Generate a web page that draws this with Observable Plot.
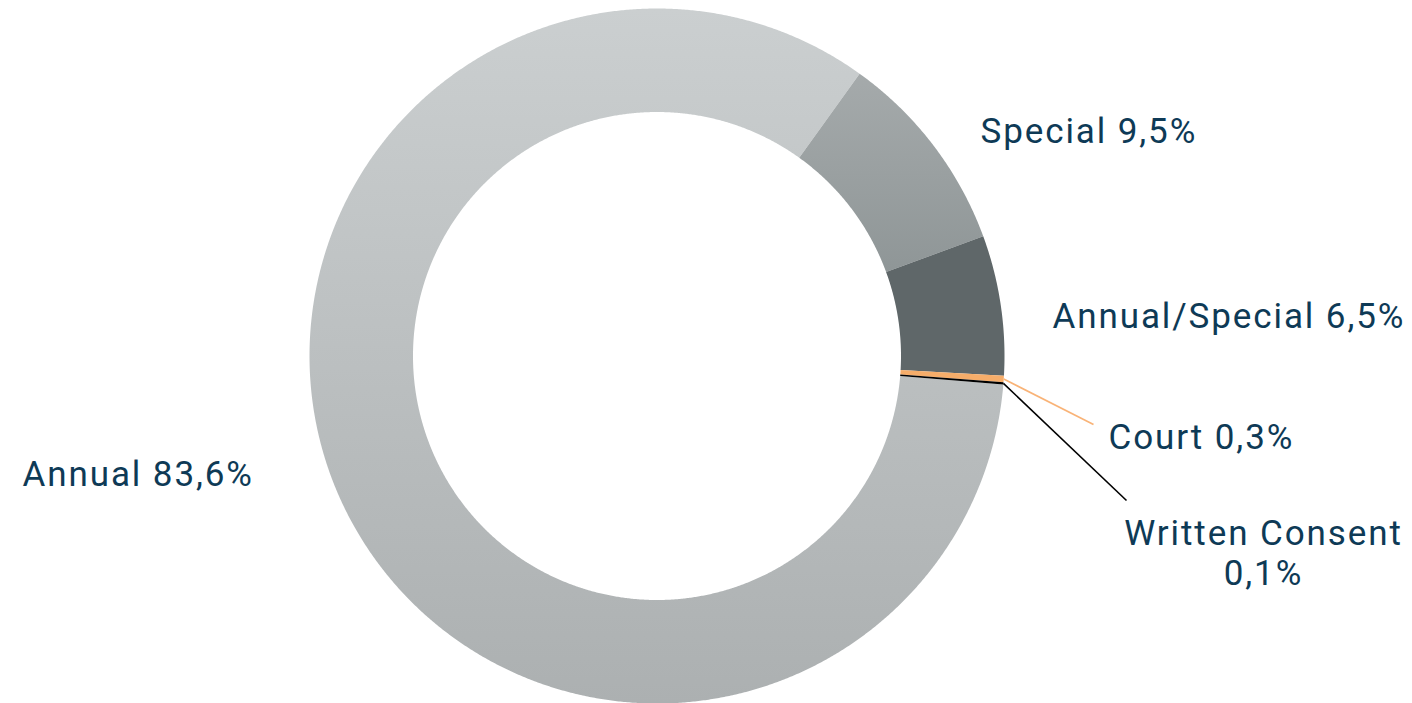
<!DOCTYPE html>
<html>
<head>
<meta charset="utf-8">
<script src="https://cdn.jsdelivr.net/npm/d3@7"></script>
<script src="https://cdn.jsdelivr.net/npm/@observablehq/plot@0.6"></script>
<style>
  html, body { margin: 0; padding: 0; background: #fff; }
  #chart svg { display: block; }
  #chart svg text { letter-spacing: 1.9px; }
</style>
</head>
<body>
<div id="chart"></div>
<script>
// ---- data ----
const categories = ["Annual", "Special", "Annual/Special", "Court", "Written Consent"];
const shares = [83.6, 9.5, 6.5, 0.3, 0.1];
const labels = ["Annual 83,6%", "Special 9,5%", "Annual/Special 6,5%", "Court 0,3%", "Written Consent\n0,1%"];

// ---- style / layout ----
const W = 1412, H = 703;
const cx = 656.5, cy = 355.5, R = 347.5;
const innerRatio = 244 / 347.5;
const startDeg = 94.7;
const fills = ["url(#gAnnual)", "url(#gSpecial)", "#5f6769", "#f6ad6a", "#000000"];
const textColor = "#0e3a56";
// label anchor points in pixel space (converted to data units below)
const labelPx = [
  {x: 22, y: 474, anchor: "start"},
  {x: 980, y: 131, anchor: "start"},
  {x: 1052, y: 316, anchor: "start"},
  {x: 1108, y: 437, anchor: "start"},
  {x: 1263, y: 552, anchor: "middle"}
];
const leaderEndPx = [null, null, null, {x: 1093, y: 424}, {x: 1126, y: 500}];
const leaderColor = [null, null, null, "#f9b377", "#000000"];

const toX = px => (px - cx) / R;
const toY = py => (cy - py) / R;

const pie = d3.pie().sort(null).value(d => d.value)
  .startAngle(startDeg * Math.PI / 180)
  .endAngle(startDeg * Math.PI / 180 + 2 * Math.PI);
const rows = categories.map((c, i) => ({category: c, value: shares[i], i}));
const arcs = pie(rows);

// polygon vertices for each ring segment
const poly = [];
arcs.forEach(a => {
  const n = Math.max(4, Math.ceil((a.endAngle - a.startAngle) / 0.005));
  const pts = [];
  for (let k = 0; k <= n; k++) {
    const t = a.startAngle + (a.endAngle - a.startAngle) * k / n;
    pts.push([Math.sin(t), Math.cos(t)]);
  }
  for (let k = n; k >= 0; k--) {
    const t = a.startAngle + (a.endAngle - a.startAngle) * k / n;
    pts.push([innerRatio * Math.sin(t), innerRatio * Math.cos(t)]);
  }
  pts.forEach(p => poly.push({category: a.data.category, i: a.data.i, x: p[0], y: p[1]}));
});

const leaders = arcs.filter(a => leaderEndPx[a.data.i]).map(a => {
  const mid = (a.startAngle + a.endAngle) / 2;
  const e = leaderEndPx[a.data.i];
  return {x1: Math.sin(mid), y1: Math.cos(mid), x2: toX(e.x), y2: toY(e.y), color: leaderColor[a.data.i]};
});

const textRows = arcs.map(a => ({
  label: labels[a.data.i],
  x: toX(labelPx[a.data.i].x),
  y: toY(labelPx[a.data.i].y),
  anchor: labelPx[a.data.i].anchor
}));

const chart = Plot.plot({
  width: W,
  height: H,
  margin: 0,
  x: {domain: [toX(0), toX(W)], axis: null},
  y: {domain: [toY(H), toY(0)], axis: null},
  style: {background: "#fff", fontFamily: "Roboto, sans-serif"},
  marks: [
    ...categories.map((c, i) => Plot.line(poly.filter(p => p.i === i), {
      x: "x", y: "y", fill: fills[i], stroke: "none", curve: "linear"
    })),
    Plot.link(leaders, {x1: "x1", y1: "y1", x2: "x2", y2: "y2", stroke: "color", strokeWidth: 1.6}),
    Plot.text(textRows.filter(d => d.anchor === "start"), {
      x: "x", y: "y", text: "label", textAnchor: "start", lineAnchor: "middle",
      fill: textColor, fontSize: 35, fontWeight: 400
    }),
    Plot.text(textRows.filter(d => d.anchor === "middle"), {
      x: "x", y: "y", text: "label", textAnchor: "middle", lineAnchor: "middle",
      fill: textColor, fontSize: 35, lineHeight: 40 / 35, fontWeight: 400
    })
  ]
});

// gradient definitions for the shaded slices
const ns = "http://www.w3.org/2000/svg";
const defs = document.createElementNS(ns, "defs");
function grad(id, top, bottom) {
  const g = document.createElementNS(ns, "linearGradient");
  g.setAttribute("id", id);
  g.setAttribute("x1", "0"); g.setAttribute("y1", "0");
  g.setAttribute("x2", "0"); g.setAttribute("y2", "1");
  [[0, top], [1, bottom]].forEach(([o, c]) => {
    const s = document.createElementNS(ns, "stop");
    s.setAttribute("offset", o);
    s.setAttribute("stop-color", c);
    g.appendChild(s);
  });
  defs.appendChild(g);
}
grad("gAnnual", "#cbcfd0", "#acb0b1");
grad("gSpecial", "#a5aaab", "#8f9697");
chart.insertBefore(defs, chart.firstChild);

document.getElementById("chart").appendChild(chart);
</script>
</body>
</html>
